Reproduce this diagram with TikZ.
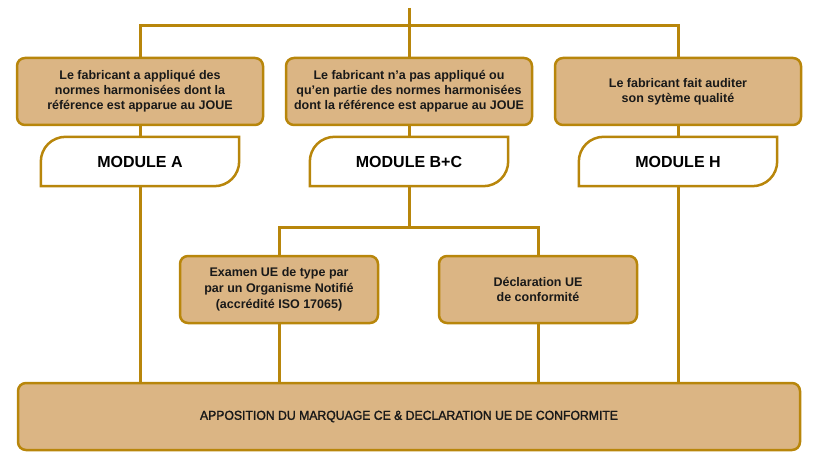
\documentclass[tikz,border=0pt]{standalone}
\usepackage{fontspec}
\setmainfont{Liberation Sans}
\newfontfamily\botfont[FakeStretch=0.94,FakeBold=1.6]{Liberation Sans}
\definecolor{gold}{RGB}{184,134,11}
\definecolor{tan}{RGB}{219,181,132}
\tikzset{
  conn/.style={draw=gold, line width=3pt},
  tanbox/.style={draw=gold, line width=2.5pt, fill=tan, rounded corners=8pt, align=center,
     inner sep=0pt, font=\bfseries\fontsize{12.5}{15}\selectfont, text=black!90},
  tabnode/.style={inner sep=0pt, minimum width=198pt, minimum height=49pt,
     font=\bfseries\fontsize{16}{18}\selectfont, text=black},
  tabline/.style={draw=gold, line width=2.5pt},
}
\newcommand\tabshape[1]{%
  \draw[tabline] (#1.south west) -- ([yshift=-25pt]#1.north west)
    .. controls ([yshift=-11pt]#1.north west) and ([xshift=11pt]#1.north west) .. ([xshift=25pt]#1.north west)
    -- (#1.north east) -- ([yshift=25pt]#1.south east)
    .. controls ([yshift=11pt]#1.south east) and ([xshift=-11pt]#1.south east) .. ([xshift=-25pt]#1.south east)
    -- cycle;}
\begin{document}
\begin{tikzpicture}[x=1pt,y=-1pt]
\useasboundingbox (0,0) rectangle (816,468);
% top boxes
\node[tanbox, minimum width=246pt, minimum height=67pt] (b1) at (140,91.5)
  {Le fabricant a appliqué des\\normes harmonisées dont la\\référence est apparue au JOUE};
\node[tanbox, minimum width=246pt, minimum height=67pt] (b2) at (409,91.5)
  {Le fabricant n’a pas appliqué ou\\qu’en partie des normes harmonisées\\dont la référence est apparue au JOUE};
\node[tanbox, minimum width=246pt, minimum height=67pt] (b3) at (678,91.5)
  {Le fabricant fait auditer\\son sytème qualité};
% modules
\node[tabnode] (mA) at (140,161.5) {MODULE A};
\node[tabnode] (mB) at (409,161.5) {MODULE B+C};
\node[tabnode] (mH) at (678,161.5) {MODULE H};
\tabshape{mA}\tabshape{mB}\tabshape{mH}
% second level
\node[tanbox, minimum width=198pt, minimum height=67pt, font=\bfseries\fontsize{12.5}{15.8}\selectfont] (b4) at (279,289.5)
  {Examen UE de type par\\par un Organisme Notifié\\(accrédité ISO 17065)};
\node[tanbox, minimum width=198pt, minimum height=67pt, font=\bfseries\fontsize{12.5}{15.8}\selectfont] (b5) at (538,289.5)
  {Déclaration UE\\de conformité};
% bottom
\node[tanbox, minimum width=782pt, minimum height=67pt, font=\botfont\fontsize{13}{15}\selectfont] (bot) at (409,416.5)
  {APPOSITION DU MARQUAGE CE \& DECLARATION UE DE CONFORMITE};
% connectors
\coordinate (top) at (409,8);
\coordinate (hub) at (409,26);
\coordinate (hub2) at (409,227);
\draw[conn] (top) -- (b2.north);
\draw[conn] (b1.north) |- (hub) -| (b3.north);
\draw[conn] (b1.south) -- (mA.north);
\draw[conn] (b2.south) -- (mB.north);
\draw[conn] (b3.south) -- (mH.north);
\draw[conn] (mA.south) -- (mA.south |- bot.north);
\draw[conn] (mH.south) -- (mH.south |- bot.north);
\draw[conn] (mB.south) -- (hub2);
\draw[conn] (b4.north) |- (hub2) -| (b5.north);
\draw[conn] (b4.south) -- (b4.south |- bot.north);
\draw[conn] (b5.south) -- (b5.south |- bot.north);
\end{tikzpicture}
\end{document}
